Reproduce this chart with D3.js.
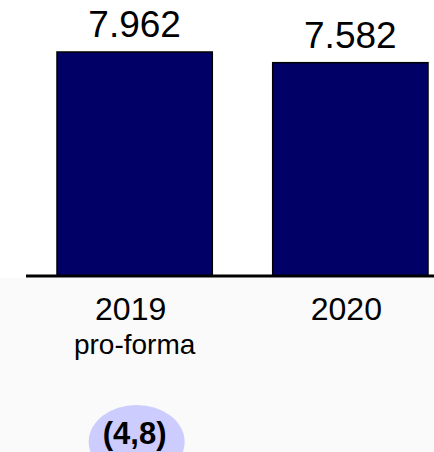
<!DOCTYPE html>
<html>
<head>
<meta charset="utf-8">
<script src="https://d3js.org/d3.v7.min.js"></script>
<style>
  body { margin: 0; background: #fff; }
  svg { display: block; font-family: Arial, "Liberation Sans", sans-serif; }
</style>
</head>
<body>
<div id="container"></div>
<script>
/* CONSTANTS AND GLOBALS */
const width = 434,
    height = 452;

// DATA
const years = ["2019", "2020"];
const subLabels = ["pro-forma", ""];
const values = [7962, 7582];
const valueLabels = ["7.962", "7.582"];
const changeLabel = "(4,8)";

// SVG
const svg = d3.select("#container")
    .append("svg")
    .attr("width", width)
    .attr("height", height);

// SCALES
const x = d3.scaleBand()
    .domain(years)
    .range([57, 428])
    .paddingInner(0.28)
    .paddingOuter(0);

const y = d3.scaleLinear()
    .domain([0, d3.max(values)])
    .range([276, 52]);

// light band under the axis
svg.append("rect")
    .attr("x", 0)
    .attr("y", y(0) + 2)
    .attr("width", width)
    .attr("height", height - y(0))
    .attr("fill", "#fafafa");

// BARS
svg.selectAll("rect.bar")
    .data(values)
    .join("rect")
    .attr("class", "bar")
    .attr("x", (d, i) => x(years[i]))
    .attr("y", d => y(d))
    .attr("width", x.bandwidth())
    .attr("height", d => y(0) - y(d))
    .attr("fill", "#000066")
    .attr("stroke", "#000")
    .attr("stroke-width", 1.5);

// AXIS LINE
svg.append("line")
    .attr("x1", 26)
    .attr("x2", width)
    .attr("y1", y(0))
    .attr("y2", y(0))
    .attr("stroke", "#000")
    .attr("stroke-width", 3);

// VALUE LABELS
svg.selectAll("text.value")
    .data(values)
    .join("text")
    .attr("class", "value")
    .attr("x", (d, i) => x(years[i]) + x.bandwidth() / 2)
    .attr("y", d => y(d) - 15)
    .attr("text-anchor", "middle")
    .attr("font-size", 37)
    .attr("fill", "#000")
    .text((d, i) => valueLabels[i]);

// CATEGORY LABELS
svg.selectAll("text.year")
    .data(years)
    .join("text")
    .attr("class", "year")
    .attr("x", d => x(d) + x.bandwidth() / 2)
    .attr("dx", -4)
    .attr("y", y(0) + 44)
    .attr("text-anchor", "middle")
    .attr("font-size", 32)
    .attr("fill", "#000")
    .text(d => d);

svg.selectAll("text.sub")
    .data(subLabels)
    .join("text")
    .attr("class", "sub")
    .attr("x", (d, i) => x(years[i]) + x.bandwidth() / 2)
    .attr("y", y(0) + 78)
    .attr("text-anchor", "middle")
    .attr("font-size", 28)
    .attr("fill", "#000")
    .text(d => d);

// CHANGE BUBBLE
const cx = x(years[0]) + x.bandwidth() / 2;
svg.append("ellipse")
    .attr("cx", cx + 2)
    .attr("cy", 442)
    .attr("rx", 48)
    .attr("ry", 37)
    .attr("fill", "#ccccff");

svg.append("text")
    .attr("x", cx)
    .attr("y", 444)
    .attr("text-anchor", "middle")
    .attr("font-size", 31)
    .attr("font-weight", "bold")
    .attr("fill", "#000")
    .text(changeLabel);
</script>
</body>
</html>
